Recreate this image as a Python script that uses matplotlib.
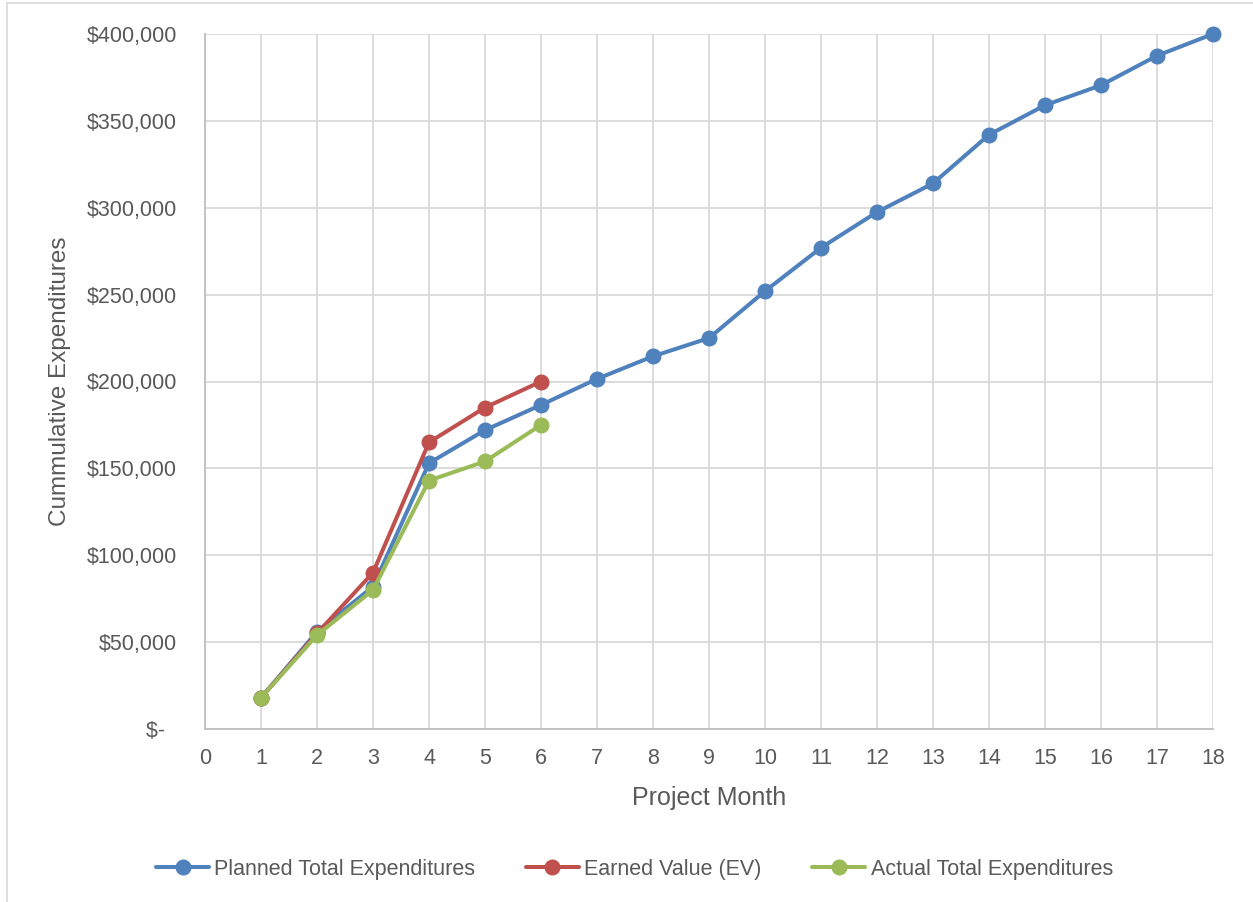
import matplotlib
matplotlib.use("Agg")
import matplotlib.pyplot as plt
from matplotlib.ticker import FuncFormatter, MultipleLocator
from matplotlib.lines import Line2D

months = list(range(1, 19))
planned = [18000, 56000, 82000, 153000, 172000, 186500, 201500, 214500, 225000,
           252000, 277000, 297500, 314000, 342000, 359000, 370500, 387500, 400000]
ev_months = [1, 2, 3, 4, 5, 6]
earned_value = [18000, 55000, 90000, 165000, 185000, 200000]
actual = [18000, 54000, 80000, 143000, 154000, 175000]

BLUE = "#4f81bd"
RED = "#c0504d"
GREEN = "#9bbb59"
TEXT = "#595959"
GRID = "#d9d9d9"

plt.rcParams["font.family"] = ["Liberation Sans", "DejaVu Sans"]

W, H = 1253, 902
fig = plt.figure(figsize=(W / 100, H / 100), dpi=100)
ax = fig.add_axes([205 / W, 1 - 729 / H, (1213 - 205) / W, (729 - 34) / H])

style = dict(linewidth=2.9, marker="o", markersize=10.5, solid_capstyle="round", clip_on=False)
ax.plot(months, planned, color=BLUE, label="Planned Total Expenditures", **style, zorder=3)
ax.plot(ev_months, earned_value, color=RED, label="Earned Value (EV)", **style, zorder=4)
ax.plot(ev_months, actual, color=GREEN, label="Actual Total Expenditures", **style, zorder=5)

ax.set_xlim(0, 18)
ax.set_ylim(0, 400000)
ax.xaxis.set_major_locator(MultipleLocator(1))
ax.yaxis.set_major_locator(MultipleLocator(50000))


def money(v, pos):
    if v == 0:
        return "$-  "
    return "${:,.0f}".format(v)


ax.yaxis.set_major_formatter(FuncFormatter(money))
ax.grid(True, color=GRID, linewidth=1.3, zorder=0)
ax.set_axisbelow(True)
for side in ("top", "right"):
    ax.spines[side].set_visible(False)
for side in ("left", "bottom"):
    ax.spines[side].set_color("#bfbfbf")
    ax.spines[side].set_linewidth(1.3)
ax.tick_params(length=0, labelsize=15.5, labelcolor=TEXT)
ax.tick_params(axis="y", pad=20)
ax.tick_params(axis="x", pad=14)

ax.set_xlabel("Project Month", fontsize=18, color=TEXT)
ax.set_ylabel("Cummulative Expenditures", fontsize=17.5, color=TEXT)
ax.xaxis.set_label_coords(0.5, -(798 - 729) / (729 - 34), transform=ax.transAxes)
ax.xaxis.label.set_va("center")
ax.yaxis.set_label_coords(-(205 - 60) / (1213 - 205), 0.5, transform=ax.transAxes)
ax.yaxis.label.set_va("center")

leg = fig.legend(loc="center", bbox_to_anchor=(634.5 / W, 1 - 869 / H), ncol=3,
                 frameon=False, fontsize=15.5, handlelength=2.45, handletextpad=0.25,
                 columnspacing=2.36)
for t in leg.get_texts():
    t.set_color(TEXT)

# chart-area frame (left and top edges)
fig.add_artist(Line2D([7 / W, 7 / W], [0, 1 - 3 / H], transform=fig.transFigure,
                      color=GRID, linewidth=1.2))
fig.add_artist(Line2D([7 / W, 1], [1 - 3 / H, 1 - 3 / H], transform=fig.transFigure,
                      color=GRID, linewidth=1.2))

fig.savefig("out.png", dpi=100)
